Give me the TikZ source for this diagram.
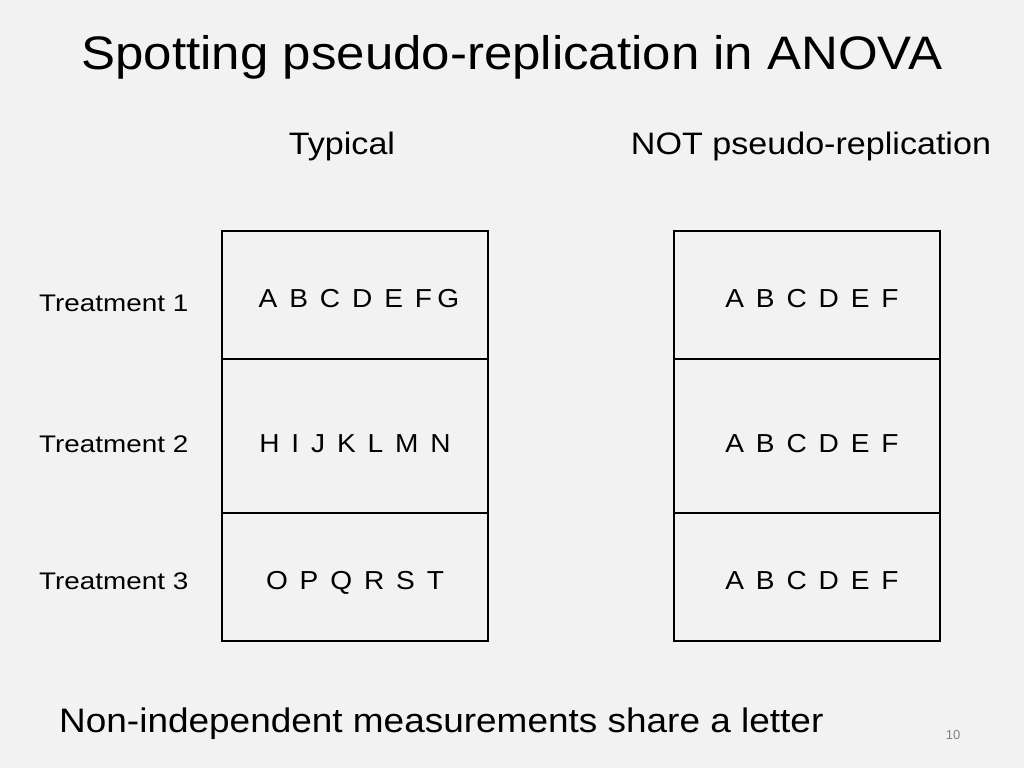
\documentclass[tikz,border=0pt]{standalone}
\usepackage{fontspec}
\setmainfont{Liberation Sans}
\newcommand{\gp}{\hspace{11pt}}
\begin{document}
\begin{tikzpicture}[x=1pt,y=-1pt,
  cell/.style={draw=black,line width=1.2pt},
  lab/.style={font=\fontsize{24}{28}\selectfont,anchor=base west,inner sep=0,xscale=1.16,transform shape},
  let/.style={font=\fontsize{26}{30}\selectfont,anchor=base,inner sep=0,xscale=1.08,transform shape}]
\fill[fill={rgb,255:red,242;green,242;blue,242}] (0,0) rectangle (1024,768);
\useasboundingbox (0,0) rectangle (1024,768);
\node[anchor=base,inner sep=0,font=\fontsize{47}{54}\selectfont,xscale=1.085,transform shape] (title) at (512,70) {Spotting pseudo-replication in ANOVA};
\node[anchor=base,inner sep=0,font=\fontsize{31}{36}\selectfont,xscale=1.1,transform shape] (h1) at (342,154) {Typical};
\node[anchor=base,inner sep=0,font=\fontsize{31}{36}\selectfont,xscale=1.1,transform shape] (h2) at (811,154) {NOT pseudo-replication};
\draw[cell] (222,231) rectangle (488,359);
\draw[cell] (222,359) rectangle (488,513);
\draw[cell] (222,513) rectangle (488,641);
\draw[cell] (674,231) rectangle (940,359);
\draw[cell] (674,359) rectangle (940,513);
\draw[cell] (674,513) rectangle (940,641);
\node[lab] (t1) at (39,311) {Treatment 1};
\node[lab] (t2) at (39,452) {Treatment 2};
\node[lab] (t3) at (39,589) {Treatment 3};
\node[let] (l1) at (359,307) {A\gp B\gp C\gp D\gp E\gp F\hspace{5pt}G};
\node[let] (l2) at (355,452) {H\gp I\gp J\gp K\gp L\gp M\gp N};
\node[let] (l3) at (355,589) {O\gp P\gp Q\gp R\gp S\gp T};
\node[let] (r1) at (812,307) {A\gp B\gp C\gp D\gp E\gp F};
\node[let] (r2) at (812,452) {A\gp B\gp C\gp D\gp E\gp F};
\node[let] (r3) at (812,589) {A\gp B\gp C\gp D\gp E\gp F};
\node[anchor=base west,inner sep=0,font=\fontsize{34}{40}\selectfont,xscale=1.087,transform shape] (foot) at (59,732) {Non-independent measurements share a letter};
\node[anchor=base,inner sep=0,font=\fontsize{13}{15}\selectfont,text={rgb,255:red,130;green,130;blue,130}] (pg) at (953,739) {10};
\end{tikzpicture}
\end{document}
